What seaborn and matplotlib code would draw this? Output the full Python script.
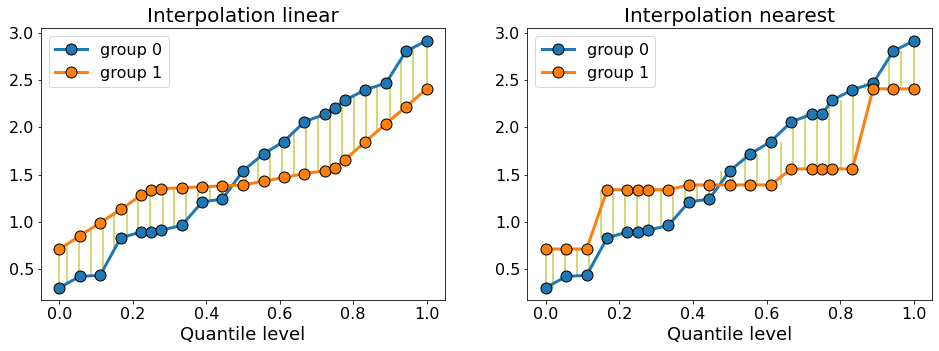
import numpy as np
import pandas as pd
import matplotlib
matplotlib.use("Agg")
import matplotlib.pyplot as plt
import seaborn as sns

# niveaux de quantile (union des deux groupes)
levels = [0.0, 0.056, 0.111, 0.167, 0.222, 0.25, 0.278, 0.333, 0.389, 0.444, 0.5,
          0.556, 0.611, 0.667, 0.722, 0.75, 0.778, 0.833, 0.889, 0.944, 1.0]

# interpolation lineaire
lin_g0 = [0.30, 0.42, 0.43, 0.83, 0.89, 0.89, 0.91, 0.96, 1.21, 1.24, 1.54,
          1.72, 1.85, 2.06, 2.14, 2.21, 2.29, 2.40, 2.47, 2.81, 2.92]
lin_g1 = [0.71, 0.85, 0.99, 1.13, 1.28, 1.34, 1.35, 1.36, 1.37, 1.38, 1.39,
          1.43, 1.47, 1.51, 1.54, 1.57, 1.66, 1.85, 2.04, 2.22, 2.41]

# interpolation nearest
near_g0 = [0.30, 0.42, 0.43, 0.83, 0.89, 0.89, 0.91, 0.96, 1.21, 1.24, 1.54,
           1.72, 1.85, 2.06, 2.14, 2.14, 2.29, 2.40, 2.47, 2.81, 2.92]
near_g1 = [0.71, 0.71, 0.71, 1.34, 1.34, 1.34, 1.34, 1.34, 1.39, 1.39, 1.39,
           1.39, 1.39, 1.56, 1.56, 1.56, 1.56, 1.56, 2.41, 2.41, 2.41]

# positions des segments verticaux
gap_levels = [0.0, 0.020, 0.053, 0.085, 0.118, 0.150, 0.183, 0.215, 0.248, 0.281,
              0.313, 0.346, 0.378, 0.411, 0.443, 0.476, 0.508, 0.541, 0.573, 0.606,
              0.638, 0.671, 0.704, 0.736, 0.769, 0.801, 0.834, 0.866, 0.899, 0.931,
              0.964, 1.0]

groups = ["group 0", "group 1"]
palette = ["tab:blue", "tab:orange"]


def gap_values(q, vals, method):
    lv = np.asarray(levels)
    vals = np.asarray(vals)
    q = np.asarray(q)
    if method == "linear":
        return np.interp(q, lv, vals)
    idx = np.abs(q[:, None] - lv[None, :]).argmin(axis=1)
    return vals[idx]


fig = plt.figure(figsize=(939 / 72, 351 / 72), dpi=72)
ax1 = fig.add_axes([0.0437, 0.1453, 0.4302, 0.7737])
ax2 = fig.add_axes([0.5616, 0.1453, 0.4313, 0.7737])

panels = [(ax1, "linear", lin_g0, lin_g1), (ax2, "nearest", near_g0, near_g1)]
for ax, method, g0, g1 in panels:
    df = pd.DataFrame({
        "level": levels * 2,
        "value": g0 + g1,
        "group": [groups[0]] * len(levels) + [groups[1]] * len(levels),
    })
    lo = gap_values(gap_levels, g0, method)
    hi = gap_values(gap_levels, g1, method)
    ax.vlines(gap_levels, lo, hi, color="tab:olive", alpha=0.6, linewidth=2, zorder=1)
    sns.lineplot(data=df, x="level", y="value", hue="group", palette=palette,
                 marker="o", markersize=11, markeredgecolor="black", markeredgewidth=1,
                 linewidth=3, ax=ax, legend=False, zorder=2)
    ax.legend(ax.get_lines()[:2], groups, loc="upper left", fontsize=16)
    ax.set_title(f"Interpolation {method}", fontsize=20)
    ax.set_xlabel("Quantile level", fontsize=18)
    ax.set_ylabel("")
    ax.set_xticks([0.0, 0.2, 0.4, 0.6, 0.8, 1.0])
    ax.set_yticks([0.5, 1.0, 1.5, 2.0, 2.5, 3.0])
    ax.tick_params(labelsize=16)

fig.savefig("out.png", dpi=72)
